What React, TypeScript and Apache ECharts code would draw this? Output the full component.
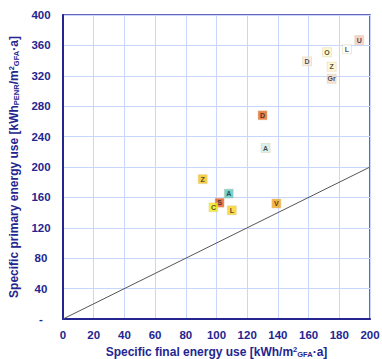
import React, { useEffect, useRef } from "react";
import * as echarts from "echarts";

const labels = ["U", "L", "O", "D", "Z", "Gr", "D", "A", "Z", "A", "S", "C", "L", "V"];
const finalUse = [193, 185, 172, 159, 175, 175, 130, 132, 91, 108, 102, 98, 110, 139];
const primaryUse = [367, 355, 351, 339, 332, 316, 268, 225, 184, 165, 153, 147, 143, 152];
const markerColors = [
  "#f6c8b8", "#ffffff", "#fff7c0", "#fbe6d8", "#fff6c8", "#f1dcd0",
  "#e4641c", "#cfeeea", "#f6c21a", "#52c8c4", "#e4581e", "#f2ec10", "#f8d21e", "#f2a414",
];
const refLineX = [0, 200];
const xTicks = [0, 20, 40, 60, 80, 100, 120, 140, 160, 180, 200];
const yTicks = [0, 40, 80, 120, 160, 200, 240, 280, 320, 360, 400];

export default function App() {
  const ref = useRef<HTMLDivElement>(null);
  useEffect(() => {
    const chart = echarts.init(ref.current!, null, { renderer: "svg" });
    const axisBlue = "#25258f";
    const font = "Liberation Sans";
    const rich = {
      b: { fontFamily: font, fontWeight: "bold", fontSize: 12, color: axisBlue },
      sup: { fontFamily: font, fontWeight: "bold", fontSize: 7.5, color: axisBlue, verticalAlign: "top", padding: [0, 0, 5, 0] },
      sub: { fontFamily: font, fontWeight: "bold", fontSize: 7.5, color: axisBlue, verticalAlign: "bottom", padding: [5, 0, 0, 0] },
    };
    chart.setOption({
      animation: false,
      backgroundColor: "#ffffff",
      grid: {
        left: 63, right: 12, top: 15, bottom: 40,
        outerBoundsMode: "none",
        containLabel: false,
        show: true, borderColor: "#3a32a8", borderWidth: 1.5,
      },
      xAxis: {
        type: "value",
        min: xTicks[0],
        max: xTicks[xTicks.length - 1],
        interval: 20,
        name: "{b|Specific final energy use [kWh/m}{sup|2}{sub|GFA}{b|·a]}",
        nameLocation: "middle",
        nameGap: 24,
        nameTextStyle: { rich },
        axisLine: { show: true, lineStyle: { color: axisBlue, width: 2 } },
        axisTick: { show: false },
        axisLabel: { fontFamily: font, fontWeight: "bold", fontSize: 11.5, color: axisBlue, margin: 10 },
        splitLine: { show: true, lineStyle: { color: "#c9d6fb", width: 1 } },
      },
      yAxis: {
        type: "value",
        min: yTicks[0],
        max: yTicks[yTicks.length - 1],
        interval: 40,
        name: "{b|Specific primary energy use [kWh}{sub|PENR}{b|/m}{sup|2}{sub|GFA}{b|·a]}",
        nameLocation: "middle",
        nameRotate: 90,
        nameGap: 39,
        nameTextStyle: { rich },
        axisLine: { show: true, lineStyle: { color: axisBlue, width: 2 } },
        axisTick: { show: false },
        axisLabel: {
          fontFamily: font,
          fontWeight: "bold",
          fontSize: 11.5,
          color: axisBlue,
          align: "center",
          margin: 22,
          formatter: (v: number) => (v === 0 ? "-" : String(v)),
        },
        splitLine: { show: true, lineStyle: { color: "#c9d6fb", width: 1 } },
      },
      series: [
        {
          type: "line",
          data: refLineX.map((v) => [v, v]),
          symbol: "none",
          lineStyle: { color: "#555555", width: 1 },
          z: 1,
        },
        {
          type: "scatter",
          symbol: "rect",
          symbolSize: 9,
          z: 3,
          data: labels.map((l, i) => ({
            value: [finalUse[i], primaryUse[i]],
            itemStyle: { color: markerColors[i], borderColor: "#d8c8a0", borderWidth: 0.5 },
            label: {
              show: true,
              position: "inside",
              formatter: l,
              fontFamily: font,
              fontWeight: "bold",
              fontSize: 7,
              color: "#222222",
            },
          })),
        },
      ],
    });
    return () => chart.dispose();
  }, []);
  return (
    <div
      ref={ref}
      style={{ width: 382, height: 359, position: "absolute", left: 0, top: 0 }}
    />
  );
}
